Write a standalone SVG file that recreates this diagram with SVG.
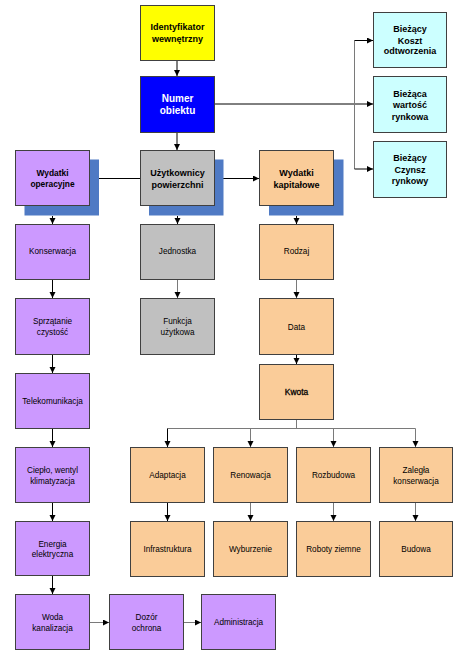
<svg xmlns="http://www.w3.org/2000/svg" width="472" height="655" viewBox="0 0 472 655">
<defs>
<marker id="ah" markerUnits="userSpaceOnUse" markerWidth="7" markerHeight="7" refX="6" refY="3" orient="auto">
<path d="M0,0 L6,3 L0,6 z" fill="#000"/>
</marker>
<style>
.b{stroke:#404040;stroke-width:1}
.y{fill:#FFFF00}.bl{fill:#0000FF}.c{fill:#CCFFFF}.p{fill:#CC99FF}.g{fill:#C0C0C0}.o{fill:#FACC99}
.sh{fill:#4F7AC4}
text{font-family:"Liberation Sans",Arial,sans-serif;text-anchor:middle;fill:#000}
.t{font-size:8.2px}
.tb{font-size:9px;font-weight:bold}
.tw{font-size:10px;font-weight:bold;fill:#fff}
.k{fill:none;stroke:#000;stroke-width:1}
.kg{fill:none;stroke:#7a7a7a;stroke-width:1}
.a{marker-end:url(#ah)}
</style>
</defs>
<rect width="472" height="655" fill="#fff"/>
<g id="connectors">
<path class="k a" d="M177,61 V76"/>
<path class="k a" d="M177,132 V150"/>
<path class="k a" d="M214,104 H373"/>
<path class="kg" d="M354.5,40.5 V169"/>
<path class="k a" d="M354.5,40.5 H373"/>
<path class="k a" d="M354.5,169 H373"/>
<path class="k" d="M89,178.5 H140"/>
<path class="k a" d="M214,178.5 H259"/>
<path class="k a" d="M52.5,216 V224"/>
<path class="k a" d="M177.5,216 V224"/>
<path class="k a" d="M296.5,216 V224"/>
<path class="k a" d="M52.5,280 V298"/>
<path class="k a" d="M52.5,354 V373"/>
<path class="k a" d="M52.5,428 V447"/>
<path class="k a" d="M52.5,502 V521"/>
<path class="k a" d="M52.5,575 V594"/>
<path class="kg a" d="M177.5,280 V298"/>
<path class="kg a" d="M296.5,280 V298"/>
<path class="k a" d="M296.5,354 V364"/>
<path class="kg" d="M296.5,419 V428.5 M167.5,428.5 H415.5"/>
<path class="k a" d="M167.5,428.5 V447"/>
<path class="kg a" d="M250.5,428.5 V447"/>
<path class="kg a" d="M333.5,428.5 V447"/>
<path class="kg a" d="M415.5,428.5 V447"/>
<path class="k a" d="M167.5,502 V521"/>
<path class="kg a" d="M250.5,502 V521"/>
<path class="kg a" d="M333.5,502 V521"/>
<path class="kg a" d="M415.5,502 V521"/>
<path class="kg a" d="M89,622.5 H109"/>
<path class="kg a" d="M183.5,622.5 H201"/>
</g>
<g id="n-identyfikator"><rect class="b y" x="140.5" y="5.5" width="74" height="55"/><text class="tb" x="177.5" y="30">Identyfikator</text><text class="tb" x="177.5" y="41.5">wewnętrzny</text></g>
<g id="n-numer"><rect class="b bl" x="140.5" y="76.5" width="74" height="56"/><text class="tw" x="177.5" y="101.5">Numer</text><text class="tw" x="177.5" y="114">obiektu</text></g>
<g id="n-koszt"><rect class="b c" x="373.5" y="12.5" width="73" height="55"/><text class="tb" x="410" y="32">Bieżący</text><text class="tb" x="410" y="43.5">Koszt</text><text class="tb" x="410" y="54">odtworzenia</text></g>
<g id="n-wartosc"><rect class="b c" x="373.5" y="76.5" width="73" height="56"/><text class="tb" x="410" y="96.5">Bieżąca</text><text class="tb" x="410" y="107.5">wartość</text><text class="tb" x="410" y="119.5">rynkowa</text></g>
<g id="n-czynsz"><rect class="b c" x="373.5" y="141.5" width="73" height="56"/><text class="tb" x="410" y="161">Bieżący</text><text class="tb" x="410" y="172.5">Czynsz</text><text class="tb" x="410" y="184">rynkowy</text></g>
<g id="n-operacyjne"><rect class="sh" x="24.5" y="159.5" width="74.5" height="56"/><rect class="b p" x="15.5" y="150.5" width="74" height="55"/><text class="tb" x="52.5" y="176" style="font-size:8.4px">Wydatki</text><text class="tb" x="52.5" y="186.5" style="font-size:8.4px">operacyjne</text></g>
<g id="n-uzytkownicy"><rect class="sh" x="149" y="159.5" width="74.5" height="56"/><rect class="b g" x="140.5" y="150.5" width="74" height="55"/><text class="tb" x="177.5" y="176">Użytkownicy</text><text class="tb" x="177.5" y="187.5">powierzchni</text></g>
<g id="n-kapitalowe"><rect class="sh" x="269" y="159.5" width="74.5" height="56"/><rect class="b o" x="259.5" y="150.5" width="74" height="55"/><text class="tb" x="296.5" y="176">Wydatki</text><text class="tb" x="296.5" y="187.5">kapitałowe</text></g>
<g id="n-konserwacja"><rect class="b p" x="15.5" y="224.5" width="74" height="55"/><text class="t" x="52.5" y="254">Konserwacja</text></g>
<g id="n-jednostka"><rect class="b g" x="140.5" y="224.5" width="74" height="55"/><text class="t" x="177.5" y="254">Jednostka</text></g>
<g id="n-rodzaj"><rect class="b o" x="259.5" y="224.5" width="74" height="55"/><text class="t" x="296.5" y="254">Rodzaj</text></g>
<g id="n-sprzatanie"><rect class="b p" x="15.5" y="298.5" width="74" height="56"/><text class="t" x="52.5" y="324">Sprzątanie</text><text class="t" x="52.5" y="334.5">czystość</text></g>
<g id="n-funkcja"><rect class="b g" x="140.5" y="298.5" width="74" height="56"/><text class="t" x="177.5" y="324">Funkcja</text><text class="t" x="177.5" y="334.5">użytkowa</text></g>
<g id="n-data"><rect class="b o" x="259.5" y="298.5" width="74" height="56"/><text class="t" x="296.5" y="329.5">Data</text></g>
<g id="n-kwota"><rect class="b o" x="259.5" y="364.5" width="74" height="55"/><text class="t" x="296.5" y="394.5" style="font-size:8.4px;stroke:#000;stroke-width:0.3">Kwota</text></g>
<g id="n-telekomunikacja"><rect class="b p" x="15.5" y="373.5" width="74" height="55"/><text class="t" x="52.5" y="403.5">Telekomunikacja</text></g>
<g id="n-cieplo"><rect class="b p" x="15.5" y="447.5" width="74" height="55"/><text class="t" x="52.5" y="473">Ciepło, wentyl</text><text class="t" x="52.5" y="483.5">klimatyzacja</text></g>
<g id="n-adaptacja"><rect class="b o" x="130.5" y="447.5" width="74" height="55"/><text class="t" x="167.5" y="477.5">Adaptacja</text></g>
<g id="n-renowacja"><rect class="b o" x="213.5" y="447.5" width="74" height="55"/><text class="t" x="250.5" y="477.5">Renowacja</text></g>
<g id="n-rozbudowa"><rect class="b o" x="296.5" y="447.5" width="74" height="55"/><text class="t" x="333.5" y="477.5">Rozbudowa</text></g>
<g id="n-zalegla"><rect class="b o" x="379.5" y="447.5" width="73" height="55"/><text class="t" x="416" y="473">Zaległa</text><text class="t" x="416" y="483.5">konserwacja</text></g>
<g id="n-energia"><rect class="b p" x="15.5" y="521.5" width="74" height="54"/><text class="t" x="52.5" y="546.5">Energia</text><text class="t" x="52.5" y="557">elektryczna</text></g>
<g id="n-infrastruktura"><rect class="b o" x="130.5" y="521.5" width="74" height="55"/><text class="t" x="167.5" y="551.5">Infrastruktura</text></g>
<g id="n-wyburzenie"><rect class="b o" x="213.5" y="521.5" width="74" height="55"/><text class="t" x="250.5" y="551.5">Wyburzenie</text></g>
<g id="n-roboty"><rect class="b o" x="296.5" y="521.5" width="74" height="55"/><text class="t" x="333.5" y="551.5">Roboty ziemne</text></g>
<g id="n-budowa"><rect class="b o" x="379.5" y="521.5" width="73" height="55"/><text class="t" x="416" y="551.5">Budowa</text></g>
<g id="n-woda"><rect class="b p" x="15.5" y="594.5" width="74" height="55"/><text class="t" x="52.5" y="620">Woda</text><text class="t" x="52.5" y="630.5">kanalizacja</text></g>
<g id="n-dozor"><rect class="b p" x="109.5" y="594.5" width="74" height="55"/><text class="t" x="146.5" y="620">Dozór</text><text class="t" x="146.5" y="630.5">ochrona</text></g>
<g id="n-administracja"><rect class="b p" x="201.5" y="594.5" width="74" height="55"/><text class="t" x="238.5" y="625">Administracja</text></g>
</svg>
